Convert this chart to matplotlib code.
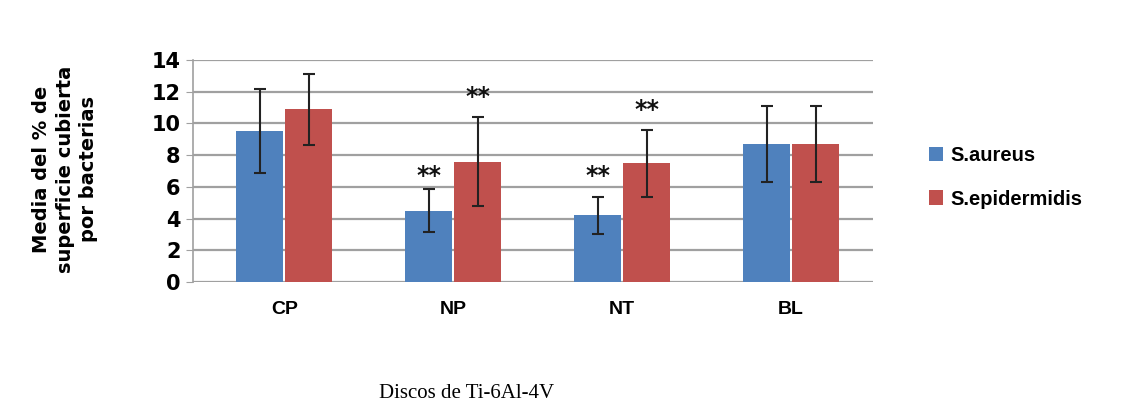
import matplotlib
matplotlib.use('Agg')
import matplotlib.pyplot as plt
import numpy as np

# Datos: % de superficie cubierta por bacterias en discos de Ti-6Al-4V
discos = ['CP', 'NP', 'NT', 'BL']
aureus = [9.55, 4.5, 4.22, 8.7]
aureus_err = [2.65, 1.37, 1.17, 2.4]
epidermidis = [10.9, 7.58, 7.48, 8.7]
epidermidis_err = [2.25, 2.8, 2.12, 2.4]
# marcas de significancia: (disco, serie, altura)
signif = [(1, 0, 6.7), (1, 1, 11.7), (2, 0, 6.7), (2, 1, 10.85)]

AZUL = '#4F81BD'
ROJO = '#C0504D'

fig = plt.figure(figsize=(11.24, 4.08), dpi=100, facecolor='white')
ax = fig.add_axes([0.1717, 0.3088, 0.605, 0.544])

x = np.arange(len(discos))
w = 0.278
off = 0.145
err_kw = dict(ecolor='#222222', elinewidth=1.5, capsize=4, capthick=1.5)
ax.bar(x - off, aureus, w, color=AZUL, yerr=aureus_err, error_kw=err_kw, label='S.aureus', zorder=3)
ax.bar(x + off, epidermidis, w, color=ROJO, yerr=epidermidis_err, error_kw=err_kw, label='S.epidermidis', zorder=3)

for i, serie, y in signif:
    xs = x[i] - off if serie == 0 else x[i] + off
    ax.text(xs, y, '**', ha='center', va='center', fontsize=17, fontweight='bold', color='#111111')

ax.set_ylim(0, 14)
ax.set_xlim(-0.54, 3.485)
ax.set_yticks(range(0, 15, 2))
ax.yaxis.grid(True, color='#a0a0a0', linewidth=1.6, zorder=0)
ax.set_axisbelow(True)
for s in ['top', 'right', 'bottom']:
    ax.spines[s].set_visible(False)
ax.spines['left'].set_color('#a0a0a0')
ax.spines['left'].set_linewidth(1.2)
ax.tick_params(axis='y', length=5, color='#a0a0a0', pad=4)
ax.tick_params(axis='x', length=0, pad=14)
ax.set_xticks(x)
ax.set_xticklabels(discos, fontsize=14, fontweight='bold', family='Liberation Sans')
for lab in ax.get_yticklabels():
    lab.set_fontsize(15)
    lab.set_fontweight('bold')
    lab.set_family('DejaVu Sans')

fig.text(0.058, 0.585, 'Media del % de\nsuperficie cubierta\npor bacterias', rotation=90,
         ha='center', va='center', fontsize=14, fontweight='bold', family='DejaVu Sans',
         linespacing=1.3)
fig.text(0.415, 0.035, 'Discos de Ti-6Al-4V', ha='center', va='center', fontsize=15,
         family='Liberation Serif')

fig.legend(loc='center left', bbox_to_anchor=(0.81, 0.565), frameon=False,
           prop={'weight': 'bold', 'size': 14.5, 'family': 'Liberation Sans'},
           handlelength=0.7, handleheight=0.7, handletextpad=0.4, labelspacing=1.2)

fig.savefig('out.png', dpi=100, facecolor='white')
